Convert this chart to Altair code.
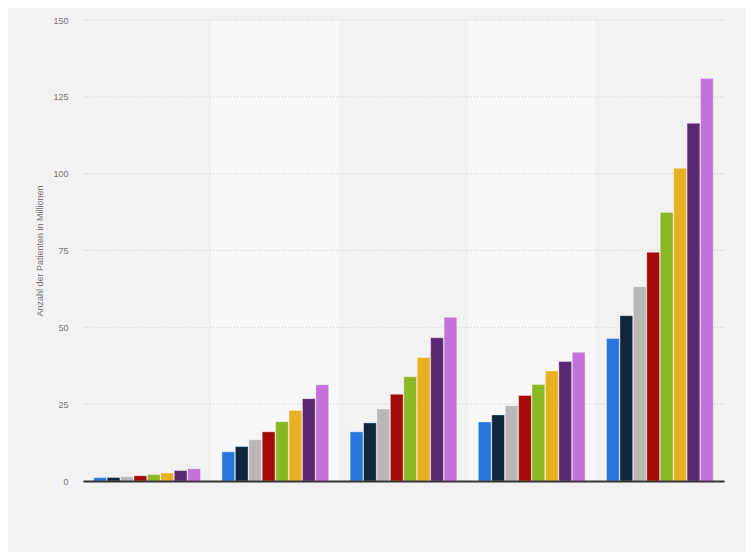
import altair as alt
import pandas as pd

groups = ["Gruppe 1", "Gruppe 2", "Gruppe 3", "Gruppe 4", "Gruppe 5"]
series = ["Serie 1", "Serie 2", "Serie 3", "Serie 4", "Serie 5", "Serie 6", "Serie 7", "Serie 8"]
values = {
    "Gruppe 1": [1.1, 1.1, 1.4, 1.7, 2.1, 2.6, 3.4, 4.0],
    "Gruppe 2": [9.5, 11.2, 13.4, 16.0, 19.3, 22.9, 26.8, 31.3],
    "Gruppe 3": [16.0, 18.9, 23.4, 28.2, 33.9, 40.2, 46.6, 53.3],
    "Gruppe 4": [19.2, 21.5, 24.5, 27.8, 31.4, 35.8, 38.9, 41.9],
    "Gruppe 5": [46.4, 53.8, 63.2, 74.4, 87.4, 101.8, 116.4, 131.0],
}
colors = ["#2876dd", "#10263d", "#b8b8b8", "#a30a0a", "#8ab823", "#e8b122", "#5b2873", "#c372d9"]
band_fill = ["#f2f2f2", "#f8f8f8", "#f2f2f2", "#f8f8f8", "#f2f2f2"]
y_ticks = [0, 25, 50, 75, 100, 125, 150]

rows = []
for g in groups:
    for s, v in zip(series, values[g]):
        rows.append({"group": g, "series": s, "value": v})
df = pd.DataFrame(rows)
bands = pd.DataFrame({"group": groups, "fill": band_fill, "top": [150] * 5, "bottom": [0] * 5})
grid_df = pd.DataFrame({"tick": y_ticks[1:]})

xscale = alt.Scale(domain=groups, paddingInner=0, paddingOuter=0)
yscale = alt.Scale(domain=[0, 150], nice=False)
xaxis = alt.Axis(title=None, labels=False, ticks=False, domain=True,
                 domainColor="#333333", domainWidth=2, grid=False)

bg = alt.Chart(bands).mark_rect().encode(
    x=alt.X("group:N", scale=xscale, sort=groups, axis=xaxis),
    y=alt.Y("top:Q", scale=yscale),
    y2="bottom:Q",
    color=alt.Color("fill:N", scale=None),
)

grid = alt.Chart(grid_df).mark_rule(color="#cccccc", strokeDash=[1, 2], strokeWidth=1).encode(
    y=alt.Y("tick:Q", scale=yscale),
)

bars = alt.Chart(df).mark_bar(stroke="#ffffff", strokeWidth=0.6, strokeOpacity=0.6).encode(
    x=alt.X("group:N", scale=xscale, sort=groups, axis=xaxis),
    xOffset=alt.XOffset("series:N", sort=series,
                        scale=alt.Scale(paddingInner=0.05, paddingOuter=0.8)),
    y=alt.Y("value:Q", scale=yscale,
            axis=alt.Axis(title="Anzahl der Patienten in Millionen", values=y_ticks,
                          domain=False, ticks=False, grid=False, labelPadding=15, titlePadding=8,
                          labelFontSize=9, titleFontSize=9, labelColor="#777777",
                          titleColor="#777777", titleFontWeight="normal",
                          labelFont="Liberation Sans", titleFont="Liberation Sans")),
    color=alt.Color("series:N", sort=series, scale=alt.Scale(domain=series, range=colors), legend=None),
)

chart = alt.layer(bg, grid, bars).properties(
    width=641, height=461,
    autosize=alt.AutoSizeParams(type="none"),
    padding={"left": 75, "top": 12, "right": 22, "bottom": 71},
    background="#f2f2f2",
).configure_view(strokeWidth=0)

chart.save("out.html", embed_options={"renderer": "svg", "actions": False})
